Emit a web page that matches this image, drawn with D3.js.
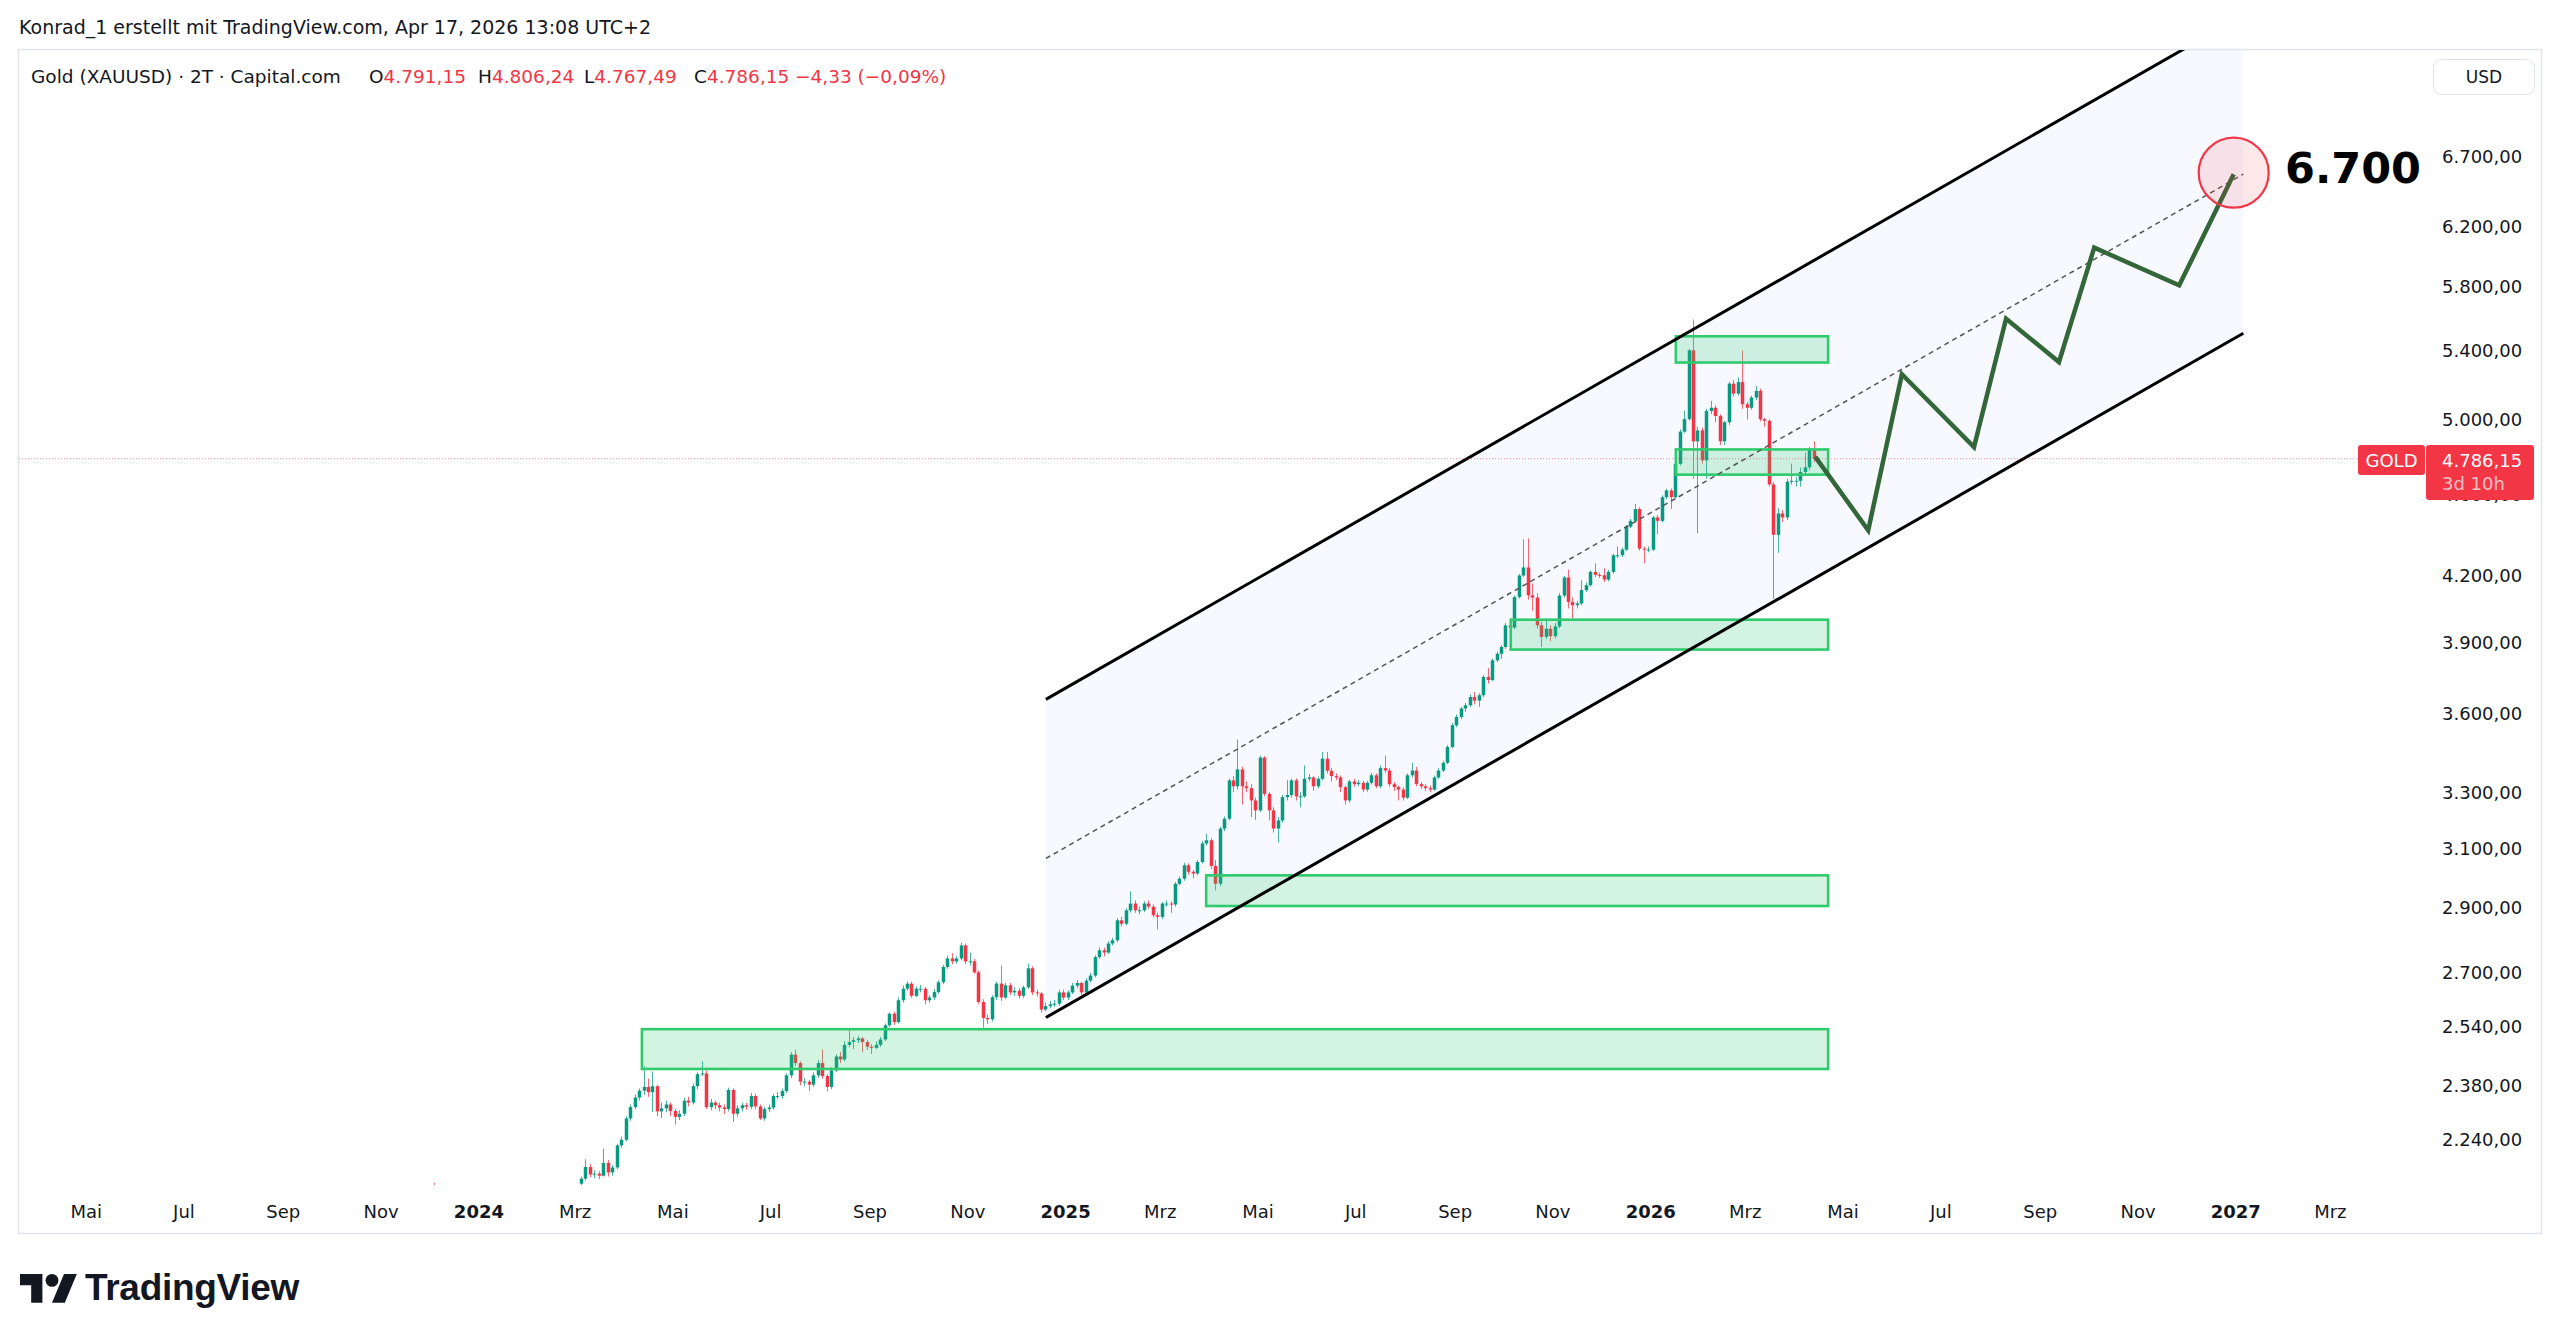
<!DOCTYPE html>
<html>
<head>
<meta charset="utf-8">
<script src="https://cdn.jsdelivr.net/npm/d3@7"></script>
<style>
  html, body { margin: 0; padding: 0; background: #fff; }
  svg { display: block; font-family: "DejaVu Sans", sans-serif; }
</style>
</head>
<body>
<svg id="chart" width="2560" height="1342"></svg>
<script>
'use strict';

// ---- data (2T bars, Capital.com XAUUSD) ----
// each bar opens at the close before it
const firstOpen = 2133;
const barStart = '2024-03-05';
const barDays = 2.786;

const closes = [
  2145, 2173, 2155, 2157, 2152, 2183, 2160, 2172, 2226, 2240, 2294, 2323,
  2348, 2366, 2376, 2362, 2378, 2312, 2320, 2330, 2313, 2298, 2306, 2340,
  2335, 2378, 2410, 2412, 2323, 2335, 2328, 2322, 2318, 2368, 2306, 2320,
  2328, 2324, 2352, 2325, 2294, 2318, 2322, 2352, 2352, 2365, 2407, 2463,
  2440, 2390, 2390, 2382, 2407, 2440, 2405, 2376, 2420, 2458, 2450, 2490,
  2498, 2503, 2508, 2498, 2485, 2482, 2490, 2505, 2545, 2578, 2554, 2617,
  2651, 2666, 2630, 2651, 2651, 2617, 2625, 2641, 2670, 2716, 2742, 2733,
  2742, 2782, 2733, 2733, 2700, 2612, 2566, 2562, 2626, 2666, 2625, 2661,
  2640, 2645, 2630, 2655, 2712, 2640, 2637, 2590, 2600, 2605, 2607, 2640,
  2625, 2640, 2660, 2668, 2640, 2675, 2690, 2746, 2767, 2760, 2788, 2798,
  2861, 2850, 2893, 2915, 2893, 2893, 2915, 2905, 2877, 2872, 2915, 2915,
  2912, 2980, 2997, 3042, 3020, 3014, 3053, 3117, 3128, 3040, 2980, 3169,
  3204, 3344, 3322, 3385, 3322, 3315, 3270, 3234, 3430, 3294, 3234, 3169,
  3198, 3282, 3290, 3344, 3285, 3285, 3350, 3355, 3322, 3350, 3426, 3380,
  3360, 3355, 3319, 3270, 3340, 3330, 3335, 3310, 3335, 3363, 3322, 3390,
  3381, 3330, 3319, 3310, 3280, 3363, 3381, 3330, 3322, 3315, 3310, 3355,
  3381, 3410, 3471, 3556, 3589, 3623, 3636, 3670, 3655, 3677, 3753, 3740,
  3823, 3851, 3880, 3975, 3965, 4102, 4202, 4240, 4110, 4100, 3975, 3924,
  3960, 3927, 3970, 4109, 4193, 4080, 4065, 4073, 4134, 4157, 4219, 4205,
  4203, 4183, 4219, 4298, 4298, 4325, 4437, 4466, 4525, 4330, 4325, 4325,
  4483, 4466, 4585, 4620, 4585, 4759, 4933, 5002, 5401, 4880, 4940, 4778,
  5048, 5066, 5020, 4880, 4985, 5204, 5146, 5213, 5086, 5066, 5124, 5162,
  5002, 4993, 4651, 4397, 4503, 4483, 4665, 4670, 4670, 4716, 4740, 4833, 4786.15
];

const highs = [
  2150, 2192, 2180, 2165, 2163, 2218, 2190, 2178, 2230, 2248, 2300, 2330,
  2356, 2372, 2431, 2398, 2417, 2382, 2335, 2340, 2335, 2318, 2315, 2348,
  2350, 2385, 2415, 2445, 2420, 2345, 2340, 2335, 2330, 2374, 2372, 2328,
  2335, 2334, 2360, 2358, 2330, 2324, 2330, 2358, 2362, 2372, 2412, 2470,
  2476, 2445, 2400, 2395, 2415, 2448, 2477, 2410, 2428, 2464, 2470, 2500,
  2530, 2512, 2515, 2512, 2504, 2492, 2500, 2512, 2550, 2582, 2584, 2625,
  2660, 2672, 2672, 2658, 2662, 2656, 2632, 2650, 2676, 2722, 2750, 2758,
  2750, 2790, 2788, 2760, 2740, 2705, 2620, 2575, 2632, 2672, 2720, 2668,
  2668, 2655, 2652, 2660, 2726, 2718, 2648, 2642, 2610, 2615, 2618, 2648,
  2648, 2646, 2668, 2676, 2672, 2682, 2698, 2752, 2776, 2775, 2795, 2806,
  2868, 2872, 2900, 2955, 2925, 2905, 2922, 2925, 2912, 2886, 2920, 2925,
  2922, 2986, 3004, 3050, 3048, 3026, 3060, 3125, 3150, 3135, 3060, 3175,
  3212, 3350, 3360, 3500, 3395, 3340, 3330, 3280, 3438, 3436, 3300, 3245,
  3210, 3290, 3345, 3350, 3352, 3300, 3400, 3368, 3360, 3358, 3452, 3452,
  3390, 3370, 3362, 3325, 3346, 3350, 3345, 3342, 3342, 3372, 3370, 3400,
  3438, 3390, 3338, 3325, 3318, 3370, 3410, 3395, 3338, 3330, 3325, 3362,
  3390, 3418, 3478, 3565, 3598, 3630, 3645, 3680, 3690, 3685, 3760, 3790,
  3830, 3860, 3888, 3985, 4000, 4110, 4210, 4375, 4380, 4165, 4120, 3990,
  4000, 3975, 3985, 4120, 4200, 4230, 4100, 4085, 4180, 4170, 4226, 4260,
  4215, 4236, 4228, 4305, 4340, 4335, 4445, 4475, 4550, 4535, 4340, 4340,
  4490, 4495, 4595, 4628, 4630, 4768, 4945, 5050, 5410, 5590, 4960, 4955,
  5060, 5105, 5080, 5030, 4992, 5215, 5225, 5240, 5400, 5100, 5135, 5190,
  5175, 5010, 5000, 4665, 4530, 4520, 4680, 4760, 4690, 4740, 4820, 4850, 4880
];

const lows = [
  2128, 2140, 2148, 2146, 2144, 2150, 2150, 2152, 2168, 2220, 2236, 2288,
  2318, 2340, 2355, 2350, 2310, 2300, 2295, 2310, 2300, 2278, 2290, 2300,
  2325, 2330, 2370, 2405, 2318, 2315, 2318, 2312, 2305, 2312, 2285, 2298,
  2312, 2316, 2318, 2318, 2290, 2288, 2310, 2316, 2344, 2345, 2360, 2400,
  2432, 2380, 2378, 2365, 2376, 2400, 2398, 2364, 2370, 2415, 2440, 2445,
  2484, 2478, 2495, 2470, 2476, 2465, 2478, 2484, 2500, 2540, 2546, 2550,
  2610, 2645, 2624, 2626, 2640, 2605, 2610, 2618, 2636, 2664, 2710, 2724,
  2726, 2736, 2725, 2720, 2695, 2605, 2538, 2548, 2556, 2618, 2615, 2620,
  2632, 2630, 2622, 2624, 2650, 2632, 2628, 2582, 2585, 2594, 2598, 2600,
  2618, 2618, 2635, 2652, 2632, 2635, 2670, 2685, 2740, 2748, 2755, 2782,
  2792, 2842, 2845, 2886, 2885, 2880, 2888, 2898, 2870, 2832, 2865, 2905,
  2885, 2905, 2975, 2990, 3010, 2998, 3008, 3048, 3110, 3030, 2958, 2972,
  3160, 3198, 3300, 3310, 3255, 3300, 3210, 3200, 3228, 3285, 3198, 3155,
  3120, 3190, 3270, 3280, 3270, 3245, 3280, 3340, 3305, 3315, 3345, 3370,
  3340, 3345, 3300, 3255, 3262, 3320, 3322, 3300, 3302, 3328, 3315, 3315,
  3372, 3320, 3305, 3270, 3270, 3275, 3355, 3322, 3312, 3305, 3300, 3305,
  3350, 3375, 3405, 3465, 3548, 3580, 3610, 3630, 3640, 3630, 3670, 3725,
  3735, 3815, 3830, 3872, 3950, 3958, 4095, 4195, 4090, 4040, 3960, 3880,
  3915, 3905, 3918, 3962, 4100, 4050, 4005, 4050, 4065, 4125, 4150, 4195,
  4190, 4172, 4175, 4210, 4285, 4290, 4318, 4430, 4458, 4320, 4260, 4312,
  4318, 4400, 4458, 4575, 4525, 4578, 4750, 4925, 4995, 4680, 4405, 4760,
  4680, 5030, 4985, 4860, 4860, 4970, 5130, 5135, 5060, 5000, 5055, 5110,
  4990, 4960, 4640, 4095, 4310, 4460, 4470, 4650, 4640, 4640, 4700, 4725, 4767.49
];

// the early-December 2023 spike whose wick pokes into the pane
const spikeBar = {date: '2023-12-04', open: 2072, high: 2135, low: 2017, close: 2030};

// last bar as printed in the header
const lastOHLC = {open: 4791.15, high: 4806.24, low: 4767.49, close: 4786.15, change: -4.33, pct: -0.0009};

const priceTicks = [2240, 2380, 2540, 2700, 2900, 3100, 3300, 3600, 3900, 4200, 4600, 5000, 5400, 5800, 6200, 6700];
const monthNames = ['Jan', 'Feb', 'Mrz', 'Apr', 'Mai', 'Jun', 'Jul', 'Aug', 'Sep', 'Okt', 'Nov', 'Dez'];

// support / resistance zones
const zoneFrom = ['2024-04-12', '2025-03-30', '2025-10-06', '2026-01-17', '2026-01-17'];
const zoneTo = '2026-04-22';
const zoneLow = [2424, 2907, 3869, 4702, 5328];
const zoneHigh = [2534, 3008, 4000, 4836, 5486];

// rising channel (anchor dates, lower and upper prices)
const channelDates = ['2024-12-20', '2027-01-06'];
const channelLower = [2567, 5505];
const channelUpper = [3660, 7849];

// projected path to the target
const pathDates = ['2026-04-14', '2026-05-17', '2026-06-07', '2026-07-22', '2026-08-11',
  '2026-09-13', '2026-10-05', '2026-11-27', '2026-12-31'];
const pathPrices = [4796, 4419, 5259, 4849, 5595, 5331, 6056, 5807, 6572];

const target = {date: '2026-12-31', price: 6584, label: '6.700', labelDate: '2027-02-01', labelPrice: 6505};

// ---- layout ----
const pane = {left: 18, top: 49, right: 2541, bottom: 1233};
const plot = {left: 19, top: 50, right: 2426, bottom: 1185};
const up = '#089981', down = '#f23645';

const de = d3.formatLocale({decimal: ',', thousands: '.', grouping: [3], currency: ['', '']});
const fmtPrice = de.format(',.2f');
const fmtPct = de.format('.2%');

const svg = d3.select('#chart');

const x = d3.scaleTime()
  .domain([new Date('2024-01-01'), new Date('2027-01-01')])
  .range([478.4, 2235.3]);
const y = d3.scaleLog()
  .domain([2240, 6700])
  .range([1139.8, 157]);

const day = 864e5;
const t0 = Date.parse(barStart);
const bars = closes.map((c, i) => ({
  date: new Date(t0 + i * barDays * day),
  open: i === 0 ? firstOpen : closes[i - 1],
  high: highs[i],
  low: lows[i],
  close: c
}));
bars.unshift(Object.assign({}, spikeBar, {date: new Date(spikeBar.date)}));

// top caption
svg.append('text')
  .attr('x', 19).attr('y', 34)
  .attr('font-size', 19).attr('fill', '#131722')
  .text('Konrad_1 erstellt mit TradingView.com, Apr 17, 2026 13:08 UTC+2');

// pane frame
svg.append('rect')
  .attr('x', pane.left + 0.5).attr('y', pane.top + 0.5)
  .attr('width', pane.right - pane.left).attr('height', pane.bottom - pane.top)
  .attr('fill', '#fff').attr('stroke', '#e0e3eb').attr('stroke-width', 1.5);

svg.append('clipPath').attr('id', 'plotClip')
  .append('rect')
  .attr('x', plot.left).attr('y', plot.top)
  .attr('width', plot.right - plot.left).attr('height', plot.bottom - plot.top);

const g = svg.append('g').attr('clip-path', 'url(#plotClip)');

// channel background
const c0 = {x: x(new Date(channelDates[0])), lo: y(channelLower[0]), hi: y(channelUpper[0])};
const c1 = {x: x(new Date(channelDates[1])), lo: y(channelLower[1]), hi: y(channelUpper[1])};
g.append('path')
  .attr('d', `M${c0.x},${c0.hi}L${c1.x},${c1.hi}L${c1.x},${c1.lo}L${c0.x},${c0.lo}Z`)
  .attr('fill', 'rgba(41, 98, 255, 0.035)');

// candles
const candle = g.append('g').selectAll('g')
  .data(bars)
  .join('g')
  .attr('fill', d => d.close >= d.open ? up : down)
  .attr('stroke', d => d.close >= d.open ? up : down);

candle.append('line')
  .attr('x1', d => Math.round(x(d.date)) + 0.5)
  .attr('x2', d => Math.round(x(d.date)) + 0.5)
  .attr('y1', d => y(d.high))
  .attr('y2', d => y(d.low))
  .attr('stroke-width', 1)
  .attr('stroke-opacity', 0.75);

candle.append('rect')
  .attr('x', d => Math.round(x(d.date)) + 0.5 - 1.75)
  .attr('width', 3.5)
  .attr('y', d => y(Math.max(d.open, d.close)))
  .attr('height', d => Math.max(1, y(Math.min(d.open, d.close)) - y(Math.max(d.open, d.close))))
  .attr('stroke', 'none');

// zones
g.append('g').selectAll('rect')
  .data(zoneFrom)
  .join('rect')
  .attr('x', d => x(new Date(d)))
  .attr('width', d => x(new Date(zoneTo)) - x(new Date(d)))
  .attr('y', (d, i) => y(zoneHigh[i]))
  .attr('height', (d, i) => y(zoneLow[i]) - y(zoneHigh[i]))
  .attr('fill', 'rgba(46, 204, 113, 0.21)')
  .attr('stroke', '#2fca6c')
  .attr('stroke-width', 2.6);

// channel borders and dashed median
g.append('line')
  .attr('x1', c0.x).attr('y1', c0.hi).attr('x2', c1.x).attr('y2', c1.hi)
  .attr('stroke', '#000').attr('stroke-width', 3);
g.append('line')
  .attr('x1', c0.x).attr('y1', c0.lo).attr('x2', c1.x).attr('y2', c1.lo)
  .attr('stroke', '#000').attr('stroke-width', 3);
g.append('line')
  .attr('x1', c0.x).attr('y1', y(Math.sqrt(channelLower[0] * channelUpper[0])))
  .attr('x2', c1.x).attr('y2', y(Math.sqrt(channelLower[1] * channelUpper[1])))
  .attr('stroke', '#555').attr('stroke-width', 1.5).attr('stroke-dasharray', '5,4');

// last price line
const lastY = y(lastOHLC.close);
g.append('line')
  .attr('x1', plot.left).attr('x2', plot.right)
  .attr('y1', lastY).attr('y2', lastY)
  .attr('stroke', down).attr('stroke-opacity', 0.55)
  .attr('stroke-width', 1).attr('stroke-dasharray', '1,2');

// projection
const projection = pathDates.map((d, i) => [x(new Date(d)), y(pathPrices[i])]);
g.append('path')
  .attr('d', d3.line()(projection))
  .attr('fill', 'none')
  .attr('stroke', '#33673a')
  .attr('stroke-width', 4.5)
  .attr('stroke-linejoin', 'miter');

// target circle and label
g.append('circle')
  .attr('cx', x(new Date(target.date))).attr('cy', y(target.price)).attr('r', 35)
  .attr('fill', 'rgba(242, 54, 69, 0.12)')
  .attr('stroke', down).attr('stroke-width', 2.2);
g.append('text')
  .attr('x', x(new Date(target.labelDate))).attr('y', y(target.labelPrice))
  .attr('font-size', 43).attr('font-weight', 'bold').attr('fill', '#000')
  .text(target.label);

// header row of the pane
const header = svg.append('text').attr('y', 83).attr('font-size', 18.5).attr('fill', '#131722');
header.append('tspan').attr('x', 31).text('Gold (XAUUSD) · 2T · Capital.com');
[['O', lastOHLC.open, 369], ['H', lastOHLC.high, 478], ['L', lastOHLC.low, 584], ['C', lastOHLC.close, 694]]
  .forEach(([k, v, px]) => {
    header.append('tspan').attr('x', px).text(k);
    header.append('tspan').attr('fill', down).text(fmtPrice(v));
  });
header.append('tspan').attr('x', 795).attr('fill', down)
  .text(`${fmtPrice(lastOHLC.change)} (${fmtPct(lastOHLC.pct)})`);

// price axis
const yAxis = svg.append('g')
  .attr('transform', 'translate(2442,0)')
  .call(d3.axisRight(y).tickValues(priceTicks).tickFormat(fmtPrice).tickSize(0).tickPadding(0));
yAxis.select('.domain').remove();
yAxis.selectAll('text').attr('font-size', 18).attr('fill', '#131722').attr('font-family', '"DejaVu Sans", sans-serif');

// USD box
svg.append('rect')
  .attr('x', 2433.5).attr('y', 59.5).attr('width', 101).attr('height', 35).attr('rx', 8)
  .attr('fill', '#fff').attr('stroke', '#e0e3eb');
svg.append('text')
  .attr('x', 2484).attr('y', 83).attr('text-anchor', 'middle')
  .attr('font-size', 17).attr('fill', '#131722').text('USD');

// time axis
const timeTicks = d3.timeMonth.every(2).range(new Date(2023, 4, 1), new Date(2027, 3, 1));
const xAxis = svg.append('g')
  .attr('transform', 'translate(0,1205)')
  .call(d3.axisBottom(x).tickValues(timeTicks).tickSize(0).tickPadding(0)
    .tickFormat(d => d.getMonth() === 0 ? d.getFullYear() : monthNames[d.getMonth()]));
xAxis.select('.domain').remove();
xAxis.selectAll('text')
  .attr('font-size', 18).attr('fill', '#131722').attr('font-family', '"DejaVu Sans", sans-serif')
  .attr('font-weight', d => d.getMonth() === 0 ? 'bold' : 'normal');

// last price labels
svg.append('rect')
  .attr('x', 2358).attr('y', 445).attr('width', 67).attr('height', 30).attr('rx', 3)
  .attr('fill', down);
svg.append('text')
  .attr('x', 2391.5).attr('y', 467).attr('text-anchor', 'middle')
  .attr('font-size', 18).attr('fill', '#fff').text('GOLD');
svg.append('rect')
  .attr('x', 2426).attr('y', 445).attr('width', 108).attr('height', 55).attr('rx', 3)
  .attr('fill', down);
svg.append('text')
  .attr('x', 2442).attr('y', 467)
  .attr('font-size', 18).attr('fill', '#fff').text(fmtPrice(lastOHLC.close));
svg.append('text')
  .attr('x', 2442).attr('y', 490)
  .attr('font-size', 18).attr('fill', 'rgba(255,255,255,0.7)').text('3d 10h');

// TradingView logo
const logo = svg.append('g').attr('transform', 'translate(20,1267.6) scale(1.6)').attr('fill', '#131722');
logo.append('path').attr('d', 'M14 22H7V11H0V4h14v18zM28 22h-8l7.5-18h8L28 22z');
logo.append('circle').attr('cx', 20).attr('cy', 8).attr('r', 4);
svg.append('text')
  .attr('x', 85).attr('y', 1300)
  .attr('font-family', '"Liberation Sans", Arial, sans-serif')
  .attr('font-size', 37).attr('font-weight', 'bold').attr('fill', '#131722')
  .attr('letter-spacing', -0.3)
  .text('TradingView');
</script>
</body>
</html>
